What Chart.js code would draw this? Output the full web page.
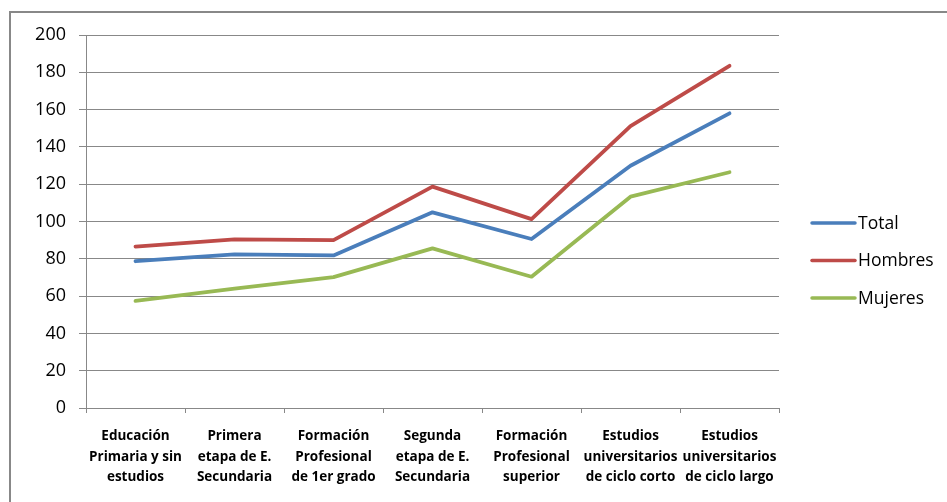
<!DOCTYPE html>
<html>
<head>
<meta charset="utf-8">
<script src="https://cdn.jsdelivr.net/npm/chart.js@4"></script>
<style>
  html, body { margin: 0; padding: 0; background: #fff; }
  #wrap { position: absolute; left: 0; top: 0; width: 947px; height: 502px; }
  #frame { position: absolute; left: 9px; top: 11px; right: 0; bottom: 0;
           border-left: 2px solid #888; border-top: 2px solid #888; }
</style>
</head>
<body>
<div id="wrap">
  <div id="frame"></div>
  <canvas id="myChart" width="947" height="502"></canvas>
</div>
<script>
// categorias del eje x (una linea por elemento)
const categories = [
    ['Educación', 'Primaria y sin', 'estudios'],
    ['Primera', 'etapa de E.', 'Secundaria'],
    ['Formación', 'Profesional', 'de 1er grado'],
    ['Segunda', 'etapa de E.', 'Secundaria'],
    ['Formación', 'Profesional', 'superior'],
    ['Estudios', 'universitarios', 'de ciclo corto'],
    ['Estudios', 'universitarios', 'de ciclo largo']
];

// valores
const total = [78.7, 82.4, 81.8, 104.9, 90.6, 129.9, 158.0];
const hombres = [86.5, 90.4, 90.0, 118.7, 101.3, 151.2, 183.5];
const mujeres = [57.4, 64.0, 70.2, 85.6, 70.4, 113.3, 126.4];

const seriesNames = ['Total', 'Hombres', 'Mujeres'];
const yTicks = [0, 20, 40, 60, 80, 100, 120, 140, 160, 180, 200];

const colors = ['#4A7EBB', '#BE4B48', '#98B954'];
const font = "'Open Sans', 'Noto Sans', sans-serif";

// leyenda a la derecha, dibujada a mano
const sideLegend = {
    id: 'sideLegend',
    afterDraw(chart) {
        const ctx = chart.ctx;
        const x0 = chart.chartArea.right + 33;
        const y0 = 223;
        const gap = 37.5;
        ctx.save();
        chart.data.datasets.forEach((ds, i) => {
            const y = y0 + i * gap;
            ctx.strokeStyle = ds.borderColor;
            ctx.lineWidth = 3.5;
            ctx.lineCap = 'round';
            ctx.beginPath();
            ctx.moveTo(x0, y);
            ctx.lineTo(x0 + 43, y);
            ctx.stroke();
            ctx.fillStyle = '#000';
            ctx.font = '17.5px ' + font;
            ctx.textBaseline = 'middle';
            ctx.fillText(ds.label, x0 + 46, y + 1);
        });
        ctx.restore();
    }
};

const ctx = document.getElementById('myChart');

new Chart(ctx, {
    type: 'line',
    data: {
        labels: categories,
        datasets: [
            { label: seriesNames[0], data: total, borderColor: colors[0] },
            { label: seriesNames[1], data: hombres, borderColor: colors[1] },
            { label: seriesNames[2], data: mujeres, borderColor: colors[2] }
        ].map(ds => Object.assign(ds, {
            borderWidth: 3.8,
            pointRadius: 0,
            tension: 0,
            fill: false,
            borderCapStyle: 'round',
            borderJoinStyle: 'round'
        }))
    },
    options: {
        responsive: false,
        animation: false,
        events: [],
        layout: { padding: { left: 10, right: 168, top: 35, bottom: 0 } },
        plugins: {
            legend: { display: false },
            tooltip: { enabled: false }
        },
        scales: {
            x: {
                offset: true,
                afterFit(scale) { scale.height = 94; },
                grid: {
                    offset: true,
                    drawOnChartArea: false,
                    drawTicks: true,
                    tickLength: 5,
                    color: '#888'
                },
                border: { color: '#888', width: 1 },
                ticks: {
                    autoSkip: false,
                    maxRotation: 0,
                    padding: 13,
                    color: '#000',
                    font: { family: font, size: 13.5, weight: 'bold', lineHeight: 1.52 }
                }
            },
            y: {
                min: 0,
                max: 200,
                afterFit(scale) { scale.width = 76; },
                afterBuildTicks(scale) { scale.ticks = yTicks.map(v => ({ value: v })); },
                grid: {
                    color: '#888',
                    lineWidth: 1,
                    tickLength: 7
                },
                border: { color: '#888', width: 1 },
                ticks: {
                    padding: 13,
                    color: '#000',
                    font: { family: font, size: 18 }
                }
            }
        }
    },
    plugins: [sideLegend]
});
</script>
</body>
</html>
